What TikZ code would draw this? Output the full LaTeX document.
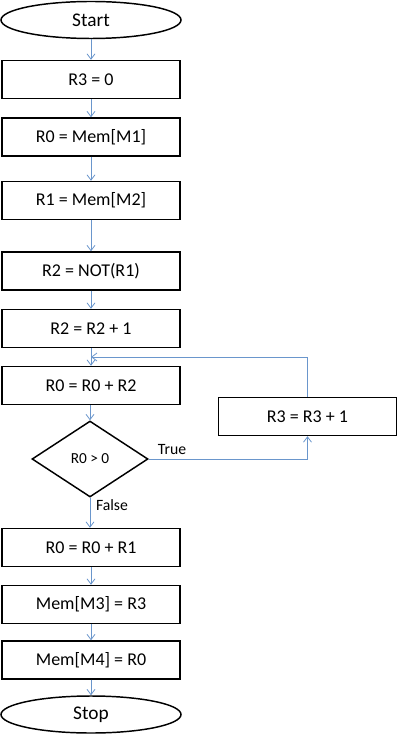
\documentclass[tikz,border=0pt]{standalone}
\usepackage{fontspec}
\setmainfont{Carlito}
\usetikzlibrary{shapes.geometric,arrows.meta}
\definecolor{linkblue}{HTML}{6A96CC}
\tikzset{
  procbox/.style={draw=black, line width=1.1pt, minimum width=178*0.75pt, minimum height=38*0.75pt, inner sep=0pt, font=\fontsize{13.5}{15}\selectfont},
  termnode/.style={draw=black, line width=1.1pt, ellipse, minimum width=180*0.75pt, minimum height=37*0.75pt, inner sep=0pt, font=\fontsize{14.5}{16}\selectfont},
  decnode/.style={draw=black, line width=1.1pt, diamond, minimum width=116*0.75pt, minimum height=76*0.75pt, inner sep=0pt, font=\fontsize{11.5}{13}\selectfont},
  link/.style={draw=linkblue, line width=0.6pt, -{Straight Barb[length=4pt,width=6pt]}},
  lbl/.style={font=\fontsize{11.8}{13}\selectfont, inner sep=0pt}
}
\begin{document}
\begin{tikzpicture}[x=0.75pt,y=-0.75pt]
\useasboundingbox (0,0) rectangle (402,737);
\node[termnode] (start) at (91,20) {Start};
\node[procbox] (r30) at (91,79.5) {R3 = 0};
\node[procbox] (m1) at (91,137) {R0 = Mem[M1]};
\node[procbox] (m2) at (91,200.5) {R1 = Mem[M2]};
\node[procbox] (notr) at (91,271) {R2 = NOT(R1)};
\node[procbox] (inc2) at (91,328.5) {R2 = R2 + 1};
\node[procbox] (add) at (91,385.5) {R0 = R0 + R2};
\node[decnode] (dec) at (90,459) {R0 > 0};
\node[procbox] (r31) at (307.5,416.5) {R3 = R3 + 1};
\node[procbox] (add1) at (91,547.5) {R0 = R0 + R1};
\node[procbox] (m3) at (91,604.5) {Mem[M3] = R3};
\node[procbox] (m4) at (91,660) {Mem[M4] = R0};
\node[termnode] (stop) at (91,714.5) {Stop};
\coordinate (join) at (91,357);

\draw[link] (start) -- (r30);
\draw[link] (r30) -- (m1);
\draw[link] (m1) -- (m2);
\draw[link] (m2) -- (notr);
\draw[link] (notr) -- (inc2);
\draw[link] (inc2) -- (add);
\draw[link] (add.south -| dec.north) -- (dec.north);
\draw[link] (dec.east) -| (r31.south);
\draw[link] (r31.north) |- (join);
\draw[link] (dec.south) -- (dec.south |- add1.north);
\draw[link] (add1) -- (m3);
\draw[link] (m3) -- (m4);
\draw[link] (m4) -- (stop);

\node[lbl] (truel) at (172,450) {True};
\node[lbl] (falsel) at (112,505) {False};
\end{tikzpicture}
\end{document}
